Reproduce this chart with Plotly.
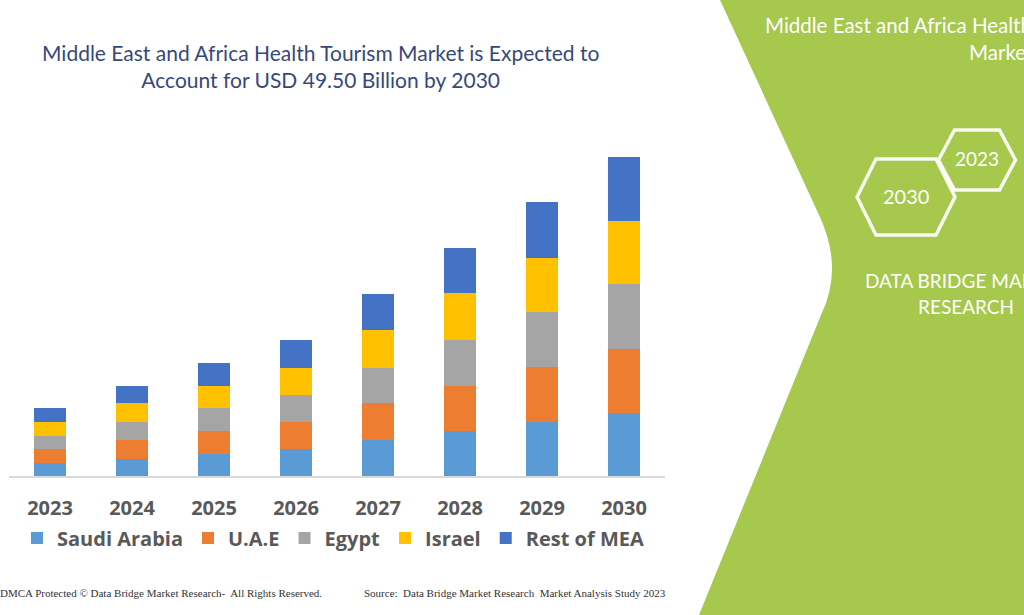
import plotly.graph_objects as go

W, H = 1024, 615

years = ["2023", "2024", "2025", "2026", "2027", "2028", "2029", "2030"]
saudi_arabia = [1.97, 2.70, 3.42, 4.15, 5.55, 6.99, 8.45, 9.85]
uae = [2.17, 2.84, 3.57, 4.30, 5.75, 6.99, 8.43, 9.94]
egypt = [2.13, 2.90, 3.62, 4.09, 5.55, 7.19, 8.59, 9.99]
israel = [2.17, 2.84, 3.37, 4.30, 5.79, 7.19, 8.43, 9.89]
rest_of_mea = [2.17, 2.69, 3.62, 4.35, 5.70, 6.99, 8.59, 9.83]

series_names = ["Saudi Arabia", "U.A.E", "Egypt", "Israel", "Rest of MEA"]
series_values = [saudi_arabia, uae, egypt, israel, rest_of_mea]
series_colors = ["#5b9bd5", "#ed7d31", "#a5a5a5", "#ffc000", "#4472c4"]

title_lines = ["Middle East and Africa Health Tourism Market is Expected to",
               "Account for USD 49.50 Billion by 2030"]
footer_left = "DMCA Protected \u00a9 Data Bridge Market Research-  All Rights Reserved."
footer_right = "Source:  Data Bridge Market Research  Market Analysis Study 2023"


def px(x):
    return x / W


def py(y):
    return (H - y) / H


fig = go.Figure()
for name, vals, col in zip(series_names, series_values, series_colors):
    fig.add_trace(go.Bar(x=years, y=vals, name=name, marker=dict(color=col, line=dict(width=0))))

# plot area: baseline at y=476px, top at y=100px
y_top_px, y_base_px = 100, 476
y_max = 49.5 * (y_base_px - y_top_px) / 318.7

shapes = []
# green panel
path = (f"M {px(720)},{py(0)} L {px(1024)},{py(0)} L {px(1024)},{py(615)} L {px(699)},{py(615)} "
        f"L {px(821)},{py(315)} Q {px(844)},{py(268)} {px(819)},{py(215)} Z")
shapes.append(dict(type="path", xref="paper", yref="paper", path=path,
                   fillcolor="#a6c84c", line=dict(width=0), layer="below"))


def hexpath(cx, cy, hw, hh, inset):
    pts = [(cx - hw, cy), (cx - hw + inset, cy - hh), (cx + hw - inset, cy - hh),
           (cx + hw, cy), (cx + hw - inset, cy + hh), (cx - hw + inset, cy + hh)]
    return "M " + " L ".join(f"{px(a)},{py(b)}" for a, b in pts) + " Z"


shapes.append(dict(type="path", xref="paper", yref="paper", path=hexpath(906, 197, 49, 38, 19),
                   line=dict(color="rgba(255,255,255,0.92)", width=3.5), fillcolor="rgba(0,0,0,0)"))
shapes.append(dict(type="path", xref="paper", yref="paper", path=hexpath(977, 160, 38.5, 30, 16),
                   line=dict(color="rgba(255,255,255,0.92)", width=3.5), fillcolor="rgba(0,0,0,0)"))

annotations = []
annotations.append(dict(xref="paper", yref="paper", x=px(320), y=py(66), xanchor="center", yanchor="middle",
                        text="<br>".join(title_lines), showarrow=False, align="center",
                        font=dict(family="Lato", size=21, color="#36497a")))
annotations.append(dict(xref="paper", yref="paper", x=px(-2), y=py(593), xanchor="left", yanchor="middle",
                        text=footer_left, showarrow=False,
                        font=dict(family="Liberation Serif", size=11, color="#333333")))
annotations.append(dict(xref="paper", yref="paper", x=px(362), y=py(593), xanchor="left", yanchor="middle",
                        text=footer_right, showarrow=False,
                        font=dict(family="Liberation Serif", size=11, color="#333333")))
# right panel texts
annotations.append(dict(xref="paper", yref="paper", x=px(763), y=py(25), xanchor="left", yanchor="middle",
                        text="Middle East and Africa Health Tourism", showarrow=False,
                        font=dict(family="Lato", size=20.5, color="white")))
annotations.append(dict(xref="paper", yref="paper", x=px(967), y=py(52), xanchor="left", yanchor="middle",
                        text="Market", showarrow=False,
                        font=dict(family="Lato", size=20.5, color="white")))
annotations.append(dict(xref="paper", yref="paper", x=px(906), y=py(196), xanchor="center", yanchor="middle",
                        text="2030", showarrow=False, font=dict(family="Lato", size=20, color="white")))
annotations.append(dict(xref="paper", yref="paper", x=px(977), y=py(158), xanchor="center", yanchor="middle",
                        text="2023", showarrow=False, font=dict(family="Lato", size=19, color="white")))
annotations.append(dict(xref="paper", yref="paper", x=px(966), y=py(280), xanchor="center", yanchor="middle",
                        text="DATA BRIDGE MARKET", showarrow=False, font=dict(family="Lato", size=19, color="white")))
annotations.append(dict(xref="paper", yref="paper", x=px(966), y=py(306), xanchor="center", yanchor="middle",
                        text="RESEARCH", showarrow=False, font=dict(family="Lato", size=19, color="white")))

fig.update_layout(
    width=W, height=H,
    margin=dict(l=0, r=0, t=0, b=0),
    paper_bgcolor="white", plot_bgcolor="rgba(0,0,0,0)",
    barmode="stack", bargap=0.6,
    showlegend=True,
    legend=dict(orientation="h", x=px(17), y=py(538), xanchor="left", yanchor="middle",
                font=dict(family="Open Sans", size=20, color="#595959", weight="bold"),
                bgcolor="rgba(0,0,0,0)", traceorder="normal"),
    xaxis=dict(domain=[px(9), px(665)], showline=True, linecolor="#d9d9d9", linewidth=1.5,
               showgrid=False, zeroline=False, ticks="outside", ticklen=13, tickcolor="rgba(0,0,0,0)",
               tickfont=dict(family="Open Sans", size=20, color="#595959", weight="bold")),
    yaxis=dict(domain=[py(y_base_px), py(y_top_px)], range=[0, y_max], visible=False, showgrid=False),
    shapes=shapes, annotations=annotations,
)

fig.write_html("out.html")
